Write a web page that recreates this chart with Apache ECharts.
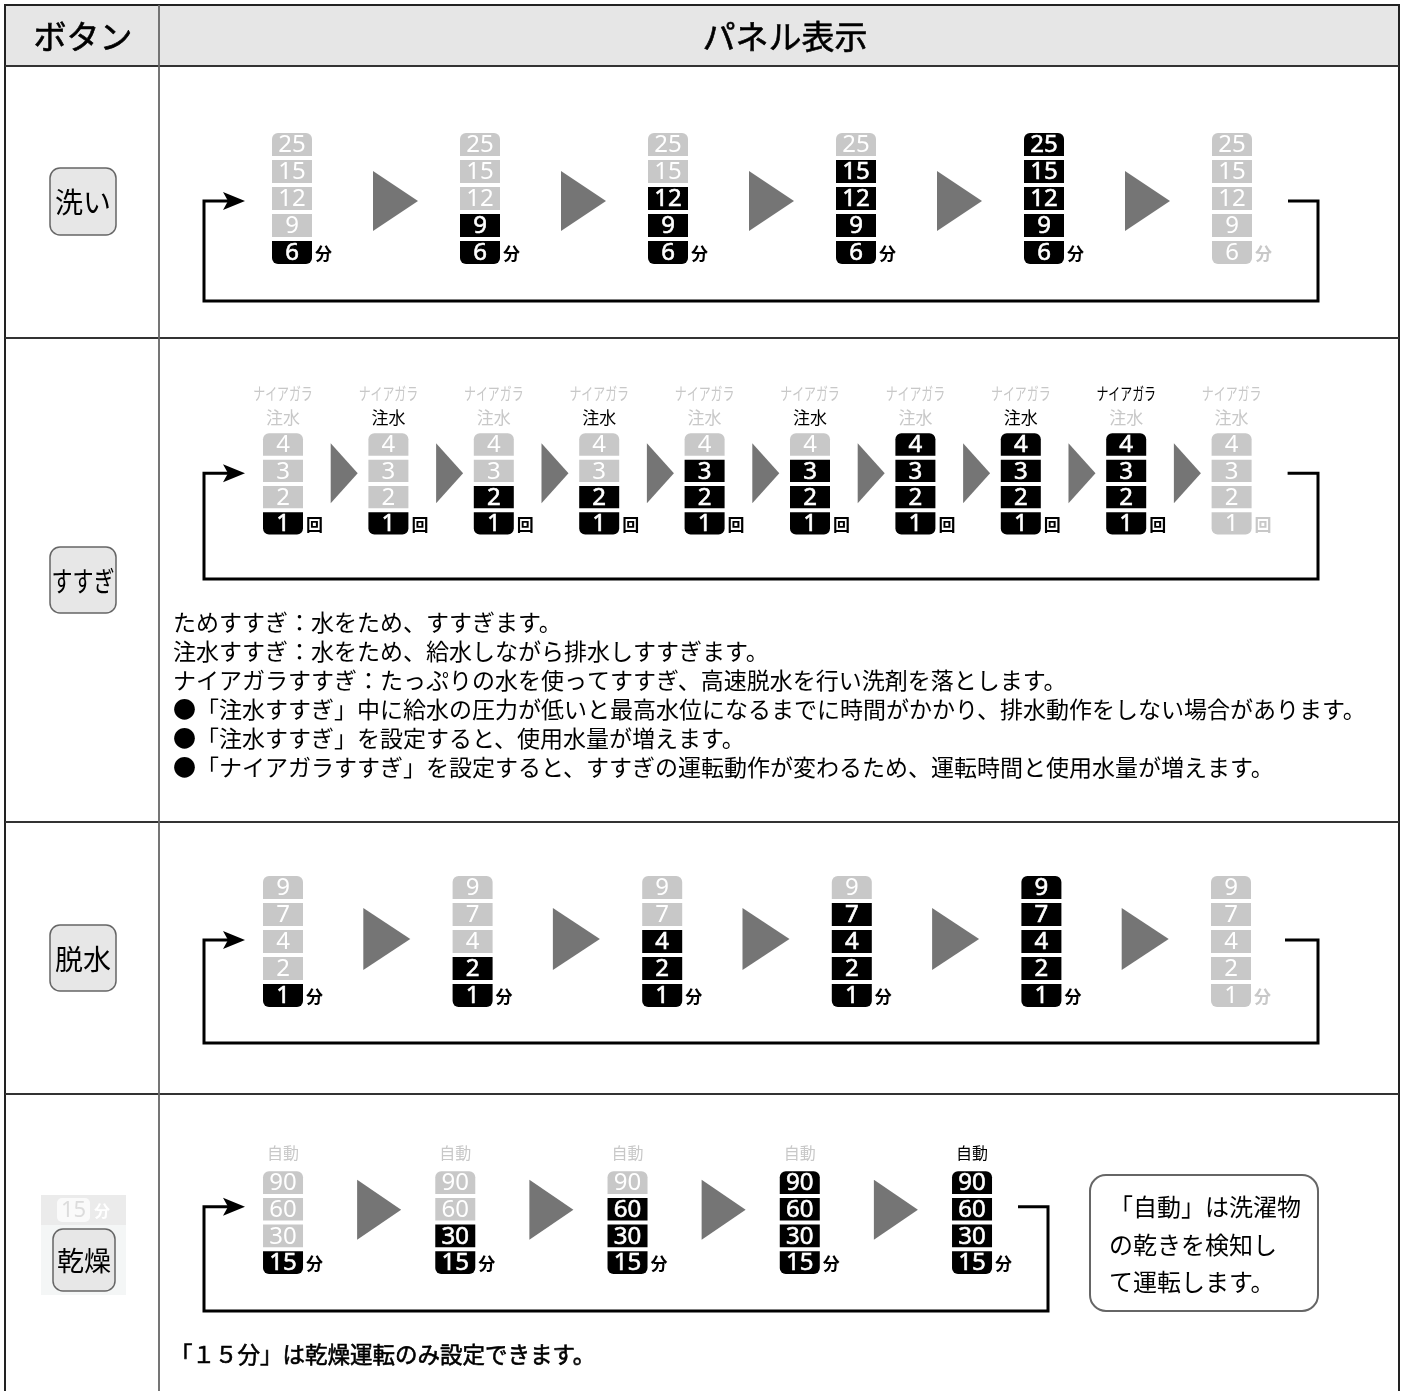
<!DOCTYPE html>
<html><head><meta charset="utf-8">
<script src="https://cdn.jsdelivr.net/npm/echarts@6/dist/echarts.min.js"></script>
<style>html,body{margin:0;padding:0;background:#fff}#c{width:1405px;height:1391px}</style>
</head><body><div id="c"></div>
<script>
const FONT = '"Noto Sans CJK JP", "Noto Sans", sans-serif';
const DIGIT_FONT = '"Noto Sans", "Noto Sans CJK JP", sans-serif';

// ---------- data ----------
const headerLabels = ['ボタン', 'パネル表示'];
const buttonLabels = ['洗い', 'すすぎ', '脱水', '乾燥'];

const washLevels = ['6', '9', '12', '15', '25'];       // bottom -> top
const washActive = [1, 2, 3, 4, 5, 0];                 // lit cells per step
const washUnit = '分';

const rinseLevels = ['1', '2', '3', '4'];
const rinseActive = [1, 1, 2, 2, 3, 3, 4, 4, 4, 0];
const rinseChusui = [0, 1, 0, 1, 0, 1, 0, 1, 0, 0];
const rinseNiagara = [0, 0, 0, 0, 0, 0, 0, 0, 1, 0];
const rinseTopLabels = ['ナイアガラ', '注水'];
const rinseUnit = '回';

const spinLevels = ['1', '2', '4', '7', '9'];
const spinActive = [1, 2, 3, 4, 5, 0];
const spinUnit = '分';

const dryLevels = ['15', '30', '60', '90'];
const dryActive = [1, 2, 3, 4, 4];
const dryAuto = [0, 0, 0, 0, 1];
const dryTopLabel = '自動';
const dryUnit = '分';
const dryIndicator = ['15', '分'];

const rinseNotes = [
  'ためすすぎ：水をため、すすぎます。',
  '注水すすぎ：水をため、給水しながら排水しすすぎます。',
  'ナイアガラすすぎ：たっぷりの水を使ってすすぎ、高速脱水を行い洗剤を落とします。',
  '●「注水すすぎ」中に給水の圧力が低いと最高水位になるまでに時間がかかり、排水動作をしない場合があります。',
  '●「注水すすぎ」を設定すると、使用水量が増えます。',
  '●「ナイアガラすすぎ」を設定すると、すすぎの運転動作が変わるため、運転時間と使用水量が増えます。'
];
const dryNote = ['「自動」は洗濯物', 'の乾きを検知し', 'て運転します。'];
const dryFooter = '「１５分」は乾燥運転のみ設定できます。';

// ---------- layout (positions / styles) ----------
const LIT = '#000000', DIM = '#c8c8c8', TRI = '#757575';
const rows = [
  { levels: washLevels, active: washActive, unit: washUnit,
    grid: { left: 198, top: 131, width: 1128, height: 135 },
    tri: { l: -13, w: 45, h: 60, dy: 2.5 },
    loop: { dy: 2.5, startDx: 56, rightX: 1318, bottomDy: 48.5, leftX: 204 } },
  { levels: rinseLevels, active: rinseActive, unit: rinseUnit,
    grid: { left: 230.3, top: 431.3, width: 1054, height: 105.3 },
    tri: { l: -5, w: 27, h: 60, dy: 2.5 },
    loop: { dy: 2.5, startDx: 56, rightX: 1318, bottomDy: 55.5, leftX: 204 } },
  { levels: spinLevels, active: spinActive, unit: spinUnit,
    grid: { left: 188.2, top: 874, width: 1137.6, height: 135 },
    tri: { l: -14.5, w: 47, h: 62, dy: -2.5 },
    loop: { dy: -1.5, startDx: 54, rightX: 1318, bottomDy: 47.5, leftX: 204 } },
  { levels: dryLevels, active: dryActive, unit: dryUnit,
    grid: { left: 196.9, top: 1169.2, width: 861.25, height: 106.7 },
    tri: { l: -12, w: 44, h: 60, dy: 0.5 },
    loop: { dy: -2.5, startDx: 46, rightX: 1048, bottomDy: 48.5, leftX: 204 } }
];

function cellSeries(row, idx) {
  const data = [];
  row.active.forEach((a, s) => row.levels.forEach((_, l) => data.push([s, l, l < a ? 1 : 0, a > 0 ? 1 : 0])));
  const n = row.levels.length;
  return {
    type: 'custom', xAxisIndex: idx, yAxisIndex: idx, clip: false, silent: true, data,
    renderItem(params, api) {
      const s = api.value(0), l = api.value(1), lit = api.value(2), any = api.value(3);
      const c = api.coord([s, l]);
      const band = api.size([1, 1]);
      const w = 40, h = band[1] - 4;
      let r = 0;
      if (l === n - 1) r = [6, 6, 0, 0];
      if (l === 0) r = [0, 0, 6, 6];
      const ch = [
        { type: 'rect', shape: { x: c[0] - w / 2, y: c[1] - h / 2, width: w, height: h, r },
          style: { fill: lit ? LIT : DIM } },
        { type: 'text', style: { text: row.levels[l], x: c[0], y: c[1] + 1, fill: '#fff',
          stroke: lit ? '#fff' : null, lineWidth: lit ? 0.6 : 0,
          fontFamily: DIGIT_FONT, fontSize: 24, align: 'center', verticalAlign: 'middle' } }
      ];
      if (l === 0) {
        ch.push({ type: 'text', style: { text: row.unit, x: c[0] + w / 2 + 3, y: c[1] + 1,
          fill: any ? LIT : DIM, fontFamily: FONT, fontSize: 17, fontWeight: 'bold', align: 'left', verticalAlign: 'middle' } });
      }
      return { type: 'group', children: ch };
    }
  };
}

function arrowSeries(row, idx) {
  const data = row.active.slice(0, -1).map((_, s) => [s]);
  return {
    type: 'custom', xAxisIndex: idx, yAxisIndex: idx, clip: false, silent: true, data,
    renderItem(params, api) {
      const s = api.value(0);
      const c0 = api.coord([s, 2]), c1 = api.coord([s + 1, 2]);
      const mid = (c0[0] + c1[0]) / 2, cy = c0[1] + row.tri.dy;
      const t = row.tri;
      return { type: 'polygon', shape: { points: [[mid + t.l, cy - t.h / 2], [mid + t.l + t.w, cy], [mid + t.l, cy + t.h / 2]] },
        style: { fill: TRI } };
    }
  };
}

function loopSeries(row, idx) {
  const n = row.active.length;
  return {
    type: 'custom', xAxisIndex: idx, yAxisIndex: idx, clip: false, silent: true, data: [[0]],
    renderItem(params, api) {
      const L = row.loop;
      const cy = api.coord([0, 2])[1] + L.dy;
      const sx = api.coord([n - 1, 2])[0] + L.startDx;
      const by = api.coord([0, 0])[1] + L.bottomDy;
      const tip = 245;
      return { type: 'group', children: [
        { type: 'polyline', shape: { points: [[sx, cy], [L.rightX, cy], [L.rightX, by], [L.leftX, by], [L.leftX, cy], [tip - 14, cy]] },
          style: { stroke: '#000', lineWidth: 3, fill: null, lineJoin: 'miter' } },
        { type: 'polygon', shape: { points: [[tip, cy], [tip - 22, cy - 9], [tip - 17, cy], [tip - 22, cy + 9]] },
          style: { fill: '#000' } }
      ] };
    }
  };
}

function topLabelSeries(idx, data, labels, offsets, sizes, scales) {
  return {
    type: 'custom', xAxisIndex: idx, yAxisIndex: idx, clip: false, silent: true, data,
    renderItem(params, api) {
      const s = api.value(0);
      const top = rows[idx].levels.length - 1;
      const c = api.coord([s, top]);
      const ch = labels.map((lab, k) => ({
        type: 'text', x: c[0], y: c[1] + offsets[k], scaleX: scales[k],
        style: { text: lab, x: 0, y: 0, fill: api.value(k + 1) ? '#000' : DIM,
          fontFamily: FONT, fontSize: sizes[k], align: 'center', verticalAlign: 'middle' }
      }));
      return { type: 'group', children: ch };
    }
  };
}

const series = [];
rows.forEach((row, i) => { series.push(cellSeries(row, i), arrowSeries(row, i), loopSeries(row, i)); });
series.push(topLabelSeries(1, rinseNiagara.map((v, s) => [s, v, rinseChusui[s]]), rinseTopLabels, [-50.5, -26.5], [17, 17], [0.7, 1]));
series.push(topLabelSeries(3, dryAuto.map((v, s) => [s, v]), [dryTopLabel], [-29.5], [16], [1]));

// ---------- static table graphics ----------
const G = [];
const lineStyle = (c, w) => ({ stroke: c, lineWidth: w });
G.push({ type: 'rect', shape: { x: 5, y: 5, width: 1394, height: 61 }, style: { fill: '#e6e6e6' }, z: -10 });
G.push({ type: 'rect', shape: { x: 5, y: 5, width: 1394, height: 1420 }, style: { fill: null, stroke: '#222', lineWidth: 2 } });
[66, 338, 822, 1094].forEach(y => G.push({ type: 'line', shape: { x1: 5, y1: y, x2: 1399, y2: y }, style: lineStyle('#333', 2) }));
G.push({ type: 'line', shape: { x1: 159, y1: 5, x2: 159, y2: 1391 }, style: lineStyle('#666', 1.8) });
G.push({ type: 'text', style: { text: headerLabels[0], x: 83, y: 36, fontFamily: FONT, fontSize: 33, fill: '#000', stroke: '#000', lineWidth: 0.6, align: 'center', verticalAlign: 'middle' } });
G.push({ type: 'text', style: { text: headerLabels[1], x: 785, y: 36, fontFamily: FONT, fontSize: 33, fill: '#000', stroke: '#000', lineWidth: 0.6, align: 'center', verticalAlign: 'middle' } });

// dry indicator background
G.push({ type: 'rect', shape: { x: 41, y: 1195, width: 85, height: 100 }, style: { fill: '#f4f6f6' } });
G.push({ type: 'rect', shape: { x: 41, y: 1195, width: 85, height: 30 }, style: { fill: '#ebebeb' } });
G.push({ type: 'rect', shape: { x: 57, y: 1198, width: 33, height: 24, r: 5 }, style: { fill: '#fafafa' } });
G.push({ type: 'text', style: { text: dryIndicator[0], x: 73.5, y: 1211, fontFamily: DIGIT_FONT, fontSize: 22, fill: '#dcdcdc', align: 'center', verticalAlign: 'middle' } });
G.push({ type: 'text', style: { text: dryIndicator[1], x: 94, y: 1211, fontFamily: FONT, fontSize: 16, fontWeight: 'bold', fill: '#fff', align: 'left', verticalAlign: 'middle' } });

const buttons = [
  { x: 50, y: 168, w: 66, h: 67, fs: 28, sx: 1 },
  { x: 50, y: 547, w: 66, h: 66, fs: 28, sx: 0.75 },
  { x: 50, y: 925, w: 66, h: 66, fs: 28, sx: 1 },
  { x: 53, y: 1229, w: 62, h: 62, fs: 27, sx: 1 }
];
buttons.forEach((b, i) => {
  G.push({ type: 'rect', shape: { x: b.x, y: b.y, width: b.w, height: b.h, r: 10 }, style: { fill: '#e7e7e7', stroke: '#666', lineWidth: 1.5 } });
  G.push({ type: 'text', x: b.x + b.w / 2, y: b.y + b.h / 2 + 1, scaleX: b.sx,
    style: { text: buttonLabels[i], x: 0, y: 0, fontFamily: FONT, fontSize: b.fs, fill: '#000', align: 'center', verticalAlign: 'middle' } });
});

rinseNotes.forEach((t, i) => G.push({ type: 'text', style: { text: t, x: 173, y: 622 + i * 29, fontFamily: FONT, fontSize: 23, fill: '#000', align: 'left', verticalAlign: 'middle' } }));

G.push({ type: 'rect', shape: { x: 1090, y: 1175, width: 228, height: 136, r: 16 }, style: { fill: '#fff', stroke: '#666', lineWidth: 2 } });
dryNote.forEach((t, i) => G.push({ type: 'text', style: { text: t, x: 1109, y: 1207 + i * 37.5, fontFamily: FONT, fontSize: 24, fill: '#000', align: 'left', verticalAlign: 'middle' } }));
G.push({ type: 'text', style: { text: dryFooter, x: 170, y: 1354, fontFamily: FONT, fontSize: 22.5, fill: '#000', stroke: '#000', lineWidth: 0.6, align: 'left', verticalAlign: 'middle' } });

const chart = echarts.init(document.getElementById('c'), null, { renderer: 'canvas' });
chart.setOption({
  animation: false,
  backgroundColor: '#fff',
  grid: rows.map(r => Object.assign({ containLabel: false, show: false }, r.grid)),
  xAxis: rows.map((r, i) => ({ type: 'category', gridIndex: i, show: false, data: r.active.map((_, s) => String(s + 1)) })),
  yAxis: rows.map((r, i) => ({ type: 'category', gridIndex: i, show: false, data: r.levels })),
  graphic: { elements: G },
  series
});
</script></body></html>
